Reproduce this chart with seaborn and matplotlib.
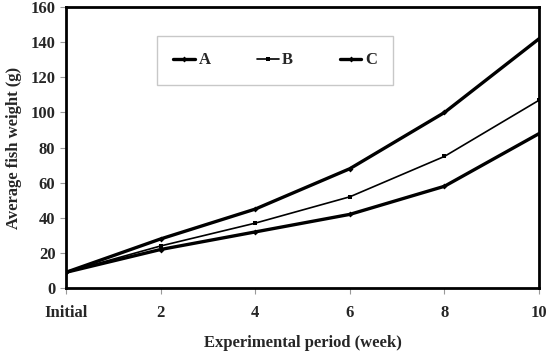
import pandas as pd
import matplotlib.pyplot as plt
import seaborn as sns

periods = ['Initial', '2', '4', '6', '8', '10']
weight_a = [9, 28, 45, 68, 100, 142]
weight_b = [9, 24, 37, 52, 75, 107]
weight_c = [9, 22, 32, 42, 58, 88]

df = pd.DataFrame({
    'period': list(range(len(periods))) * 3,
    'weight': weight_a + weight_b + weight_c,
    'group': ['A'] * 6 + ['B'] * 6 + ['C'] * 6,
})

sns.set_style('white')
plt.rcParams['font.family'] = ['Liberation Serif', 'DejaVu Serif']
plt.rcParams['font.weight'] = 'bold'

fig = plt.figure(figsize=(5.49, 3.54), dpi=100)
ax = fig.add_axes([0.12, 0.186, 0.862, 0.794])

sns.lineplot(data=df, x='period', y='weight', hue='group', style='group',
             palette=['black', 'black', 'black'],
             size='group', sizes={'A': 2.4, 'B': 1.2, 'C': 2.4},
             markers={'A': 'D', 'B': 's', 'C': 'D'}, dashes=False,
             markersize=3, markeredgewidth=0, ax=ax)

ax.set_xlim(0, 5)
ax.set_ylim(0, 160)
ax.set_xticks(range(len(periods)))
ax.set_xticklabels(periods)
ax.set_yticks(range(0, 161, 20))
ax.tick_params(axis='both', labelsize=12, direction='out', length=4,
               color='#999999', width=0.8, bottom=True, left=True)
ax.tick_params(axis='x', pad=8)
for lbl in ax.get_xticklabels() + ax.get_yticklabels():
    lbl.set_fontweight('bold')
for s in ax.spines.values():
    s.set_color('black')
    s.set_linewidth(2)

ax.set_xlabel('Experimental period (week)', fontsize=12, fontweight='bold', labelpad=10)
ax.set_ylabel('Average fish weight (g)', fontsize=12, fontweight='bold', labelpad=6)

handles, labels = ax.get_legend_handles_labels()
leg = ax.legend(handles[-3:] if len(handles) > 3 else handles,
                ['A', 'B', 'C'], loc='center', bbox_to_anchor=(0.442, 0.81),
                ncol=3, frameon=True, fancybox=False, handlelength=1.3,
                handletextpad=0.2, columnspacing=2.8, borderpad=1.0,
                prop={'weight': 'bold', 'size': 12})
leg.get_frame().set_edgecolor('#bbbbbb')
leg.get_frame().set_linewidth(1)

plt.savefig('out.png', dpi=100)
